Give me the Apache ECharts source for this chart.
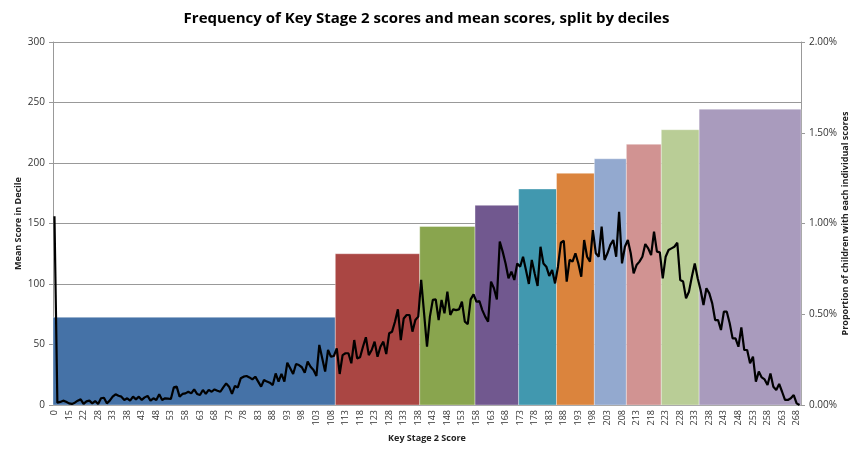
<!DOCTYPE html>
<html>
<head>
<meta charset="utf-8">
<script src="https://cdn.jsdelivr.net/npm/echarts@6/dist/echarts.min.js"></script>
<style>
html, body { margin: 0; padding: 0; background: #fff; }
#myCanvas { width: 853px; height: 451px; }
</style>
</head>
<body>
<div id="myCanvas"></div>
<script>
// scores on the x axis (the first few are not consecutive)
var firstScores = [0, 11, 12, 13, 14, 15, 16, 17, 19, 20, 22, 23, 24, 25, 27];
var lastScore = 269;
var scores = firstScores.slice();
for (var s = 28; s <= lastScore; s++) scores.push(s);
var categories = scores.map(String);

// proportion of children (%) with each score
var proportion = [
    1.04, 0.013, 0.017, 0.024, 0.018, 0.009, 0.006, 0.013, 0.024, 0.031,
    0.006, 0.02, 0.024, 0.009, 0.022, 0.006, 0.037, 0.04, 0.009, 0.024,
    0.046, 0.059, 0.051, 0.046, 0.028, 0.037, 0.024, 0.046, 0.031, 0.046,
    0.028, 0.042, 0.05, 0.024, 0.037, 0.028, 0.059, 0.028, 0.037, 0.035,
    0.033, 0.097, 0.101, 0.046, 0.061, 0.064, 0.073, 0.064, 0.086, 0.061,
    0.055, 0.083, 0.061, 0.083, 0.073, 0.086, 0.079, 0.073, 0.097, 0.119,
    0.101, 0.061, 0.105, 0.097, 0.147, 0.156, 0.16, 0.152, 0.141, 0.156,
    0.129, 0.101, 0.138, 0.129, 0.123, 0.11, 0.174, 0.129, 0.171, 0.129,
    0.233, 0.202, 0.171, 0.226, 0.22, 0.208, 0.178, 0.239, 0.211, 0.193,
    0.16, 0.331, 0.257, 0.184, 0.303, 0.266, 0.27, 0.312, 0.171, 0.275,
    0.285, 0.285, 0.23, 0.358, 0.257, 0.263, 0.321, 0.373, 0.275, 0.303,
    0.349, 0.266, 0.321, 0.349, 0.281, 0.395, 0.404, 0.459, 0.527, 0.358,
    0.477, 0.496, 0.496, 0.404, 0.468, 0.487, 0.689, 0.505, 0.321, 0.487,
    0.579, 0.582, 0.468, 0.579, 0.505, 0.624, 0.496, 0.527, 0.523, 0.527,
    0.569, 0.459, 0.446, 0.582, 0.61, 0.569, 0.573, 0.523, 0.487, 0.459,
    0.68, 0.643, 0.582, 0.9, 0.845, 0.78, 0.698, 0.735, 0.689, 0.78,
    0.762, 0.817, 0.744, 0.667, 0.799, 0.725, 0.656, 0.872, 0.78, 0.762,
    0.711, 0.744, 0.67, 0.762, 0.894, 0.905, 0.68, 0.8, 0.79, 0.836,
    0.78, 0.707, 0.909, 0.817, 0.79, 0.964, 0.836, 0.817, 0.983, 0.799,
    0.836, 0.882, 0.909, 0.817, 1.065, 0.78, 0.872, 0.909, 0.836, 0.725,
    0.771, 0.79, 0.817, 0.887, 0.863, 0.826, 0.955, 0.845, 0.841, 0.698,
    0.817, 0.854, 0.863, 0.872, 0.894, 0.689, 0.68, 0.588, 0.624, 0.707,
    0.78, 0.698, 0.634, 0.551, 0.643, 0.615, 0.56, 0.468, 0.468, 0.413,
    0.514, 0.514, 0.45, 0.367, 0.367, 0.321, 0.428, 0.303, 0.303, 0.23,
    0.266, 0.129, 0.184, 0.152, 0.141, 0.11, 0.174, 0.101, 0.083, 0.116,
    0.073, 0.028, 0.028, 0.037, 0.055, 0.009, 0.0
];

// deciles: first score, last score, mean score in decile
var decileStart = [0, 110, 139, 158, 173, 186, 199, 210, 222, 235];
var decileEnd   = [109, 138, 157, 172, 185, 198, 209, 221, 234, 269];
var decileMean  = [72.5, 125, 147.5, 165, 178.5, 191.5, 203.5, 215.5, 227.5, 244.5];

var leftTicks = [0, 50, 100, 150, 200, 250, 300];
var rightTicks = [0, 0.5, 1, 1.5, 2];

var decileColors = ['#4572A7', '#AA4643', '#89A54E', '#71588F', '#4198AF',
                    '#DB843D', '#93A9CF', '#D19392', '#B9CD96', '#A99BBD'];

var decileData = decileMean.map(function (m, i) {
    return {
        value: [categories.indexOf(String(decileStart[i])), categories.indexOf(String(decileEnd[i])), m],
        itemStyle: { color: decileColors[i] }
    };
});

var myChart = echarts.init(document.getElementById('myCanvas'));
var font = '"Open Sans", sans-serif';
var option = {
    animation: false,
    textStyle: { fontFamily: font },
    title: {
        text: 'Frequency of Key Stage 2 scores and mean scores, split by deciles',
        left: 'center',
        top: 6,
        textStyle: { fontSize: 15, fontWeight: 'bold', color: '#000', fontFamily: font }
    },
    grid: { left: 53, right: 52, top: 42, bottom: 46, outerBoundsMode: 'none', containLabel: false },
    xAxis: {
        type: 'category',
        data: categories,
        name: 'Key Stage 2 Score',
        nameLocation: 'middle',
        nameGap: 29,
        nameMoveOverlap: false,
        nameTextStyle: { fontSize: 9, fontWeight: 'bold', color: '#222' },
        axisLine: { lineStyle: { color: '#999' } },
        axisTick: { interval: 0, length: 3, lineStyle: { color: '#999' } },
        axisLabel: { interval: 4, rotate: 90, fontSize: 9, color: '#333', margin: 5 }
    },
    yAxis: [{
        type: 'value',
        min: leftTicks[0],
        max: leftTicks[leftTicks.length - 1],
        interval: 50,
        name: 'Mean Score in Decile',
        nameLocation: 'middle',
        nameGap: 30,
        nameMoveOverlap: false,
        nameTextStyle: { fontSize: 9, fontWeight: 'bold', color: '#222' },
        axisLine: { show: true, lineStyle: { color: '#999' } },
        axisTick: { show: true, length: 4, lineStyle: { color: '#999' } },
        axisLabel: { fontSize: 10, color: '#333', margin: 8 },
        splitLine: { lineStyle: { color: '#999', width: 1 } }
    }, {
        type: 'value',
        min: rightTicks[0],
        max: rightTicks[rightTicks.length - 1],
        interval: 0.5,
        name: 'Proportion of children with each individual scores',
        nameLocation: 'middle',
        nameGap: 44,
        nameRotate: 90,
        nameMoveOverlap: false,
        nameTextStyle: { fontSize: 9, fontWeight: 'bold', color: '#222', verticalAlign: 'middle' },
        axisLine: { show: true, lineStyle: { color: '#999' } },
        axisTick: { show: true, length: 4, lineStyle: { color: '#999' } },
        axisLabel: {
            fontSize: 10, color: '#333', margin: 8,
            formatter: function (v) { return v.toFixed(2) + '%'; }
        },
        splitLine: { show: false }
    }],
    series: [{
        name: 'Mean Score in Decile',
        type: 'custom',
        yAxisIndex: 0,
        encode: { x: [0, 1], y: 2 },
        renderItem: function (params, api) {
            var top = api.coord([api.value(0), api.value(2)]);
            var bottom = api.coord([api.value(1), 0]);
            var bw = api.size([1, 0])[0];
            return {
                type: 'rect',
                shape: {
                    x: top[0] - bw / 2,
                    y: top[1],
                    width: bottom[0] - top[0] + bw,
                    height: bottom[1] - top[1]
                },
                style: { fill: api.visual('color'), stroke: 'rgba(255,255,255,0.35)', lineWidth: 1 }
            };
        },
        data: decileData
    }, {
        name: 'Proportion',
        type: 'line',
        yAxisIndex: 1,
        data: proportion,
        showSymbol: false,
        symbol: 'none',
        lineStyle: { color: '#000', width: 2.2 },
        z: 5
    }]
};
myChart.setOption(option);
</script>
</body>
</html>
